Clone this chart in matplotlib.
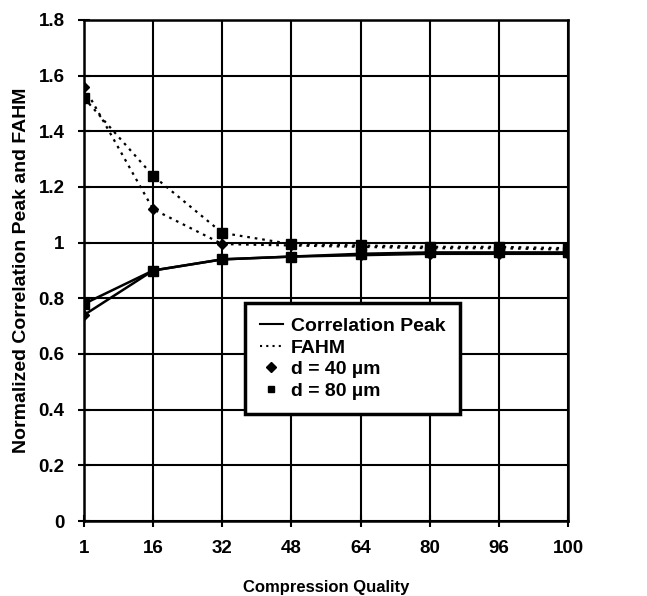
import matplotlib.pyplot as plt
from matplotlib.lines import Line2D

plt.rcParams["font.family"] = ["Liberation Sans", "DejaVu Sans"]
plt.rcParams["font.weight"] = "bold"

quality = ["1", "16", "32", "48", "64", "80", "96", "100"]

peak_40 = [0.74, 0.90, 0.94, 0.95, 0.955, 0.96, 0.96, 0.96]
peak_80 = [0.78, 0.90, 0.94, 0.95, 0.96, 0.965, 0.965, 0.965]
fahm_40 = [1.56, 1.12, 0.995, 0.99, 0.985, 0.98, 0.98, 0.975]
fahm_80 = [1.52, 1.24, 1.035, 0.995, 0.99, 0.985, 0.985, 0.98]


def main() -> None:
    fig = plt.figure(figsize=(6.47, 5.96), dpi=100)
    ax = fig.add_axes([84 / 647, 75 / 596, 484 / 647, 501 / 596])

    x = list(range(len(quality)))

    ax.plot(x, peak_40, color="black", lw=1.8, marker="D", ms=5)
    ax.plot(x, peak_80, color="black", lw=1.8, marker="s", ms=7)
    ax.plot(x, fahm_40, color="black", lw=1.6, ls=(0, (1.2, 2.2)), marker="D", ms=5)
    ax.plot(x, fahm_80, color="black", lw=1.6, ls=(0, (1.2, 2.2)), marker="s", ms=7)

    ax.set_xlim(0, len(quality) - 1)
    ax.set_ylim(0, 1.8)
    ax.set_xticks(x)
    ax.set_xticklabels(quality)
    ax.set_yticks([0, 0.2, 0.4, 0.6, 0.8, 1.0, 1.2, 1.4, 1.6, 1.8])
    ax.set_yticklabels(["0", "0.2", "0.4", "0.6", "0.8", "1", "1.2", "1.4", "1.6", "1.8"])

    ax.grid(True, color="black", lw=1.5)
    ax.set_axisbelow(True)
    for spine in ax.spines.values():
        spine.set_linewidth(1.8)
    ax.tick_params(direction="inout", length=8, width=1.5, labelsize=13.5, pad=10)
    for lbl in ax.get_xticklabels() + ax.get_yticklabels():
        lbl.set_fontweight("bold")

    ax.set_xlabel("Compression Quality", fontsize=12, fontweight="bold", labelpad=16)
    ax.set_ylabel("Normalized Correlation Peak and FAHM", fontsize=14,
                  fontweight="bold", labelpad=6)

    # legend uses proxy handles: line style for quantity, marker for spacing
    handles = [
        Line2D([], [], color="black", lw=1.5),
        Line2D([], [], color="black", lw=1.5, ls=(0, (1, 2))),
        Line2D([], [], color="black", ls="none", marker="D", ms=5),
        Line2D([], [], color="black", ls="none", marker="s", ms=5),
    ]
    labels = ["Correlation Peak", "FAHM", "d = 40 \u00b5m", "d = 80 \u00b5m"]
    leg = ax.legend(handles, labels, loc="upper left",
                    bbox_to_anchor=(0.333, 0.435), borderaxespad=0,
                    fontsize=14, frameon=True, fancybox=False, shadow=False,
                    framealpha=1, handlelength=1.2, handletextpad=0.4,
                    borderpad=0.75, labelspacing=0.2)
    leg.get_frame().set_edgecolor("black")
    leg.get_frame().set_linewidth(2.5)
    for t in leg.get_texts():
        t.set_fontweight("bold")

    fig.savefig("out.png", dpi=100)


if __name__ == "__main__":
    main()
